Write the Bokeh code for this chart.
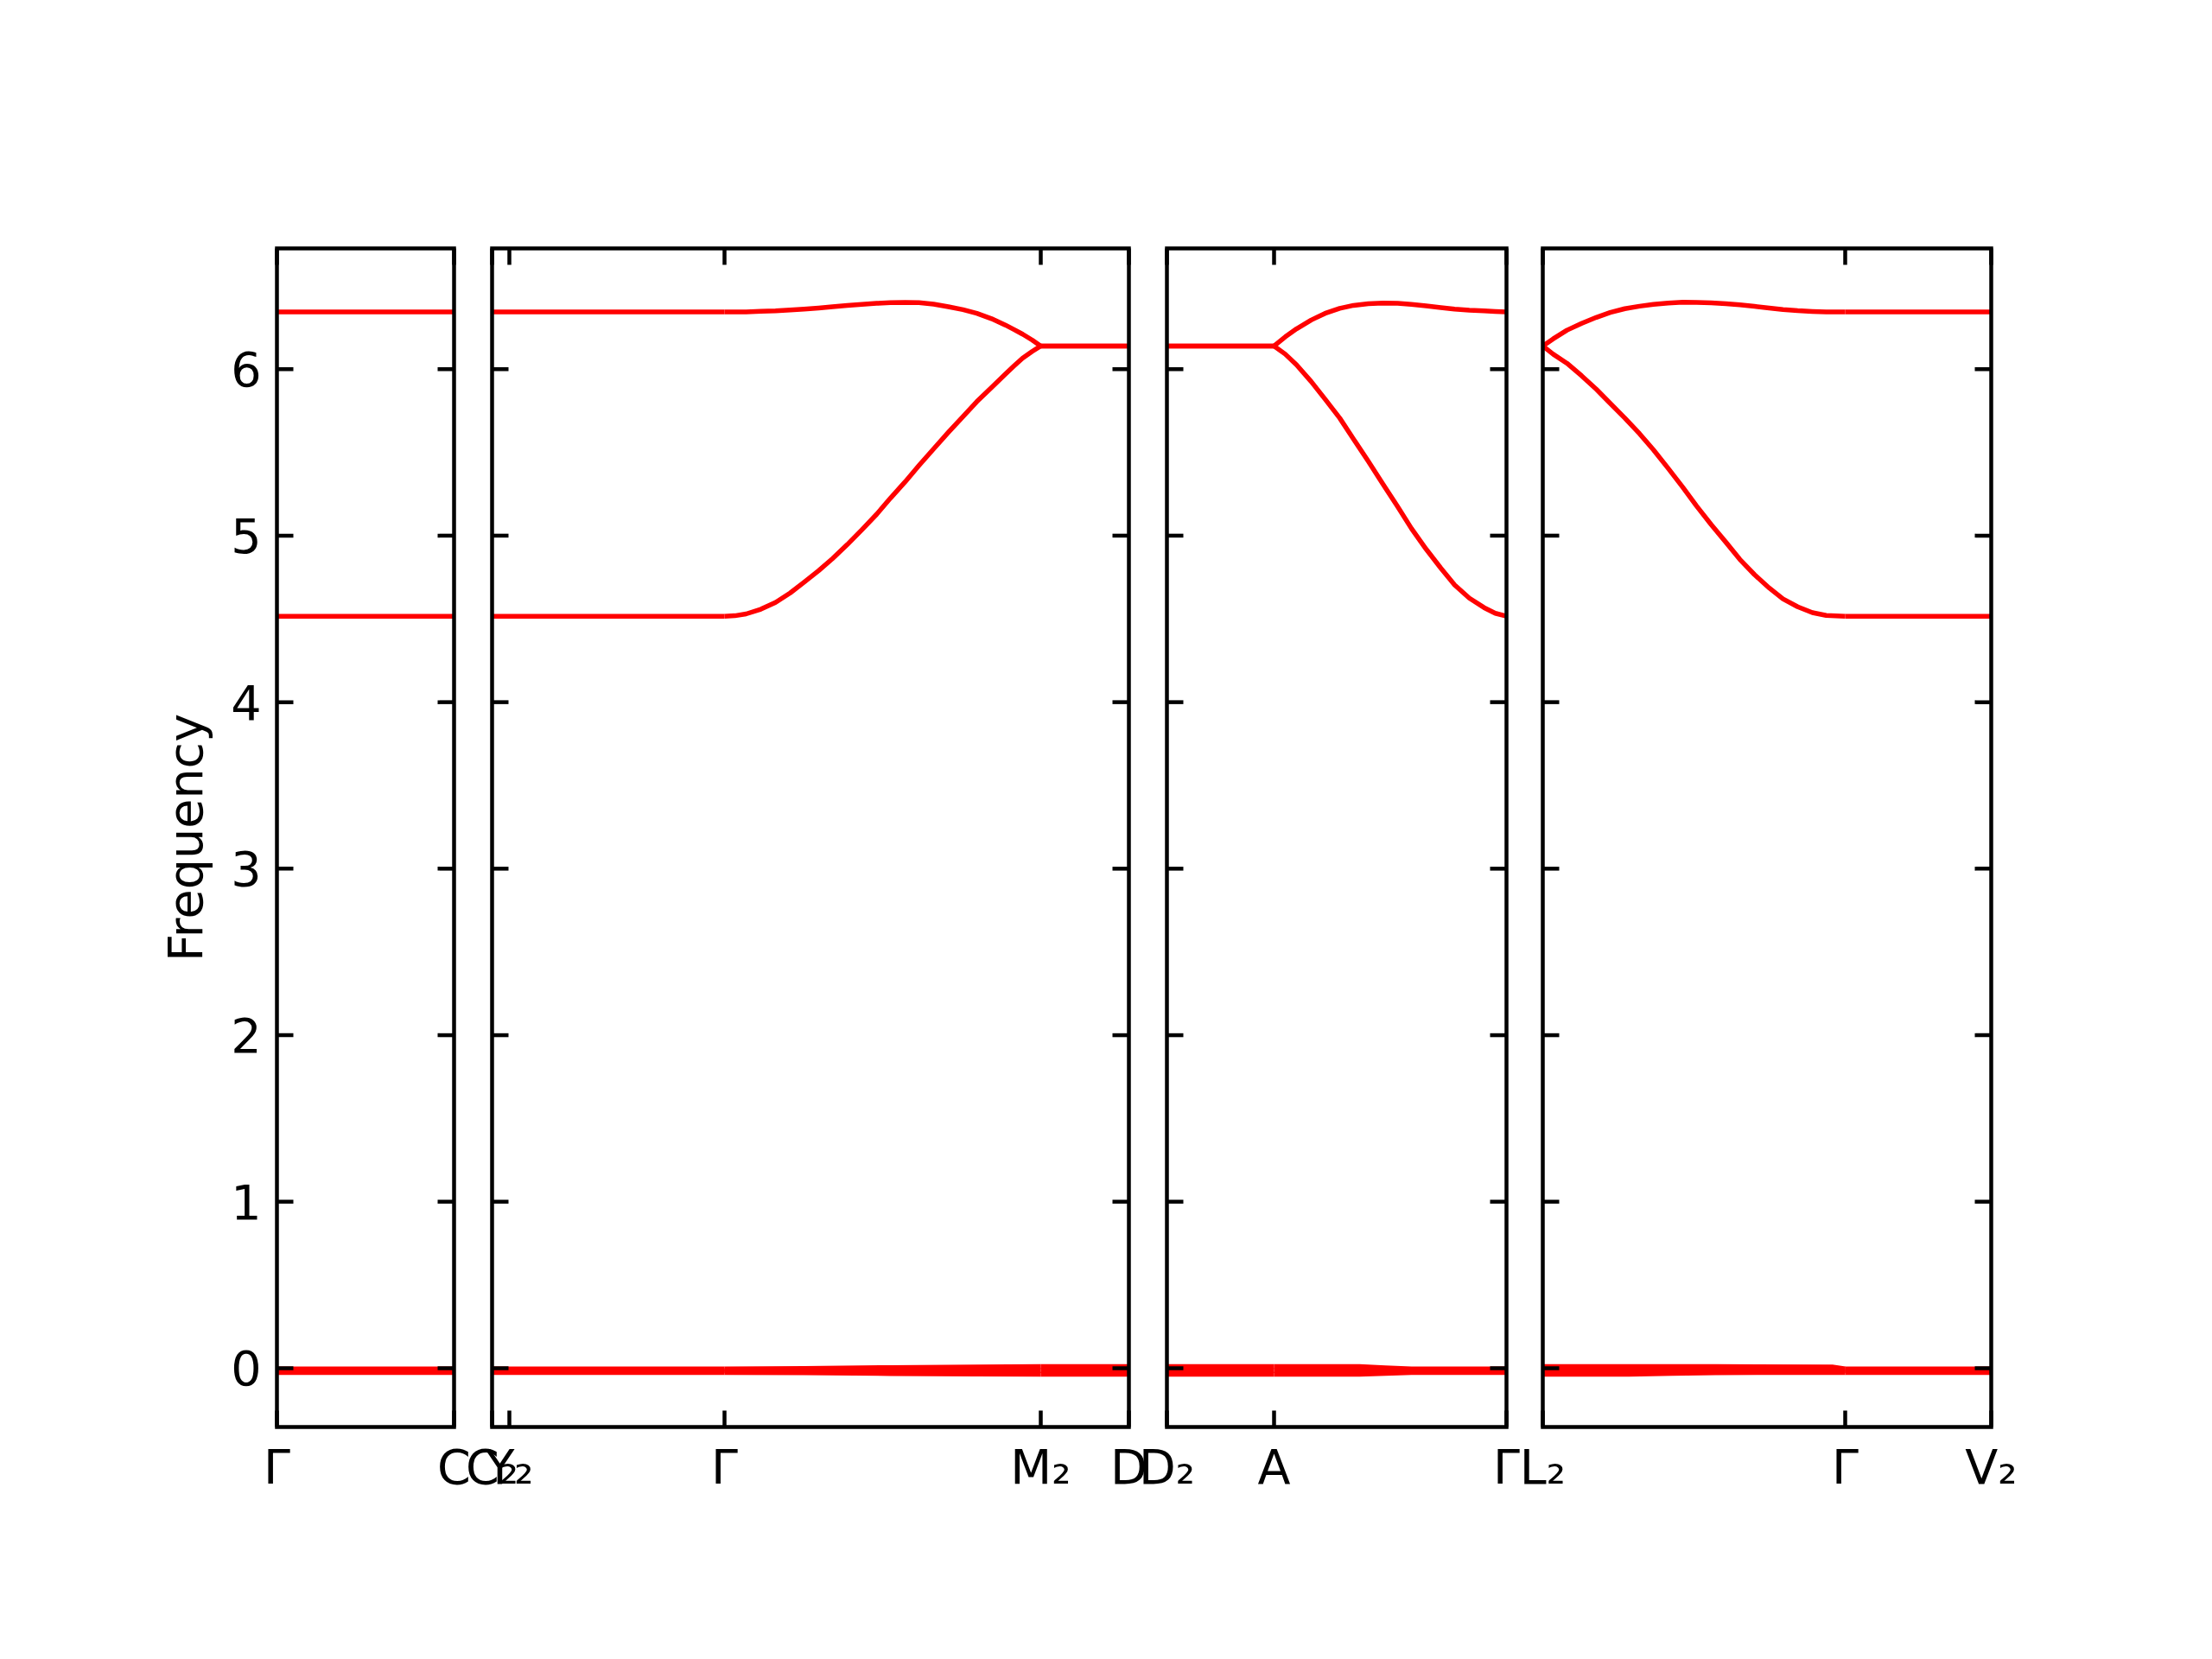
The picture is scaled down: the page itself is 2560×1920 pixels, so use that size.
from bokeh.plotting import figure
from bokeh.models import Range1d, FixedTicker
from bokeh.embed import file_html
from bokeh.resources import INLINE

# ---------------- data ----------------
# path distance along the q-path (arbitrary units), one array per segment
k_G_C = [0, 205]
k_C2_G = [205, 225, 474]
k_G_M2 = [474, 486, 499, 516, 533, 550, 566, 583, 599, 616, 633, 650, 666, 683, 699, 716, 733, 750,
          766, 783, 799, 809, 819, 830, 840]
k_M2_D = [840, 942]
k_D2_A = [942, 1066]
k_A_G = [1066, 1079, 1092, 1109, 1125, 1142, 1158, 1175, 1192, 1209, 1225, 1242, 1259, 1275, 1292,
         1309, 1322, 1335]
k_L2_G = [1335, 1347, 1363, 1380, 1397, 1413, 1430, 1447, 1463, 1480, 1497, 1513, 1530, 1547, 1563,
          1580, 1597, 1613, 1630, 1647, 1663, 1685]
k_G_V2 = [1685, 1854]

# optical branches (frequency)
hi_G_C = [6.343, 6.343]
lo_G_C = [4.516, 4.516]
hi_C2_G = [6.343, 6.343, 6.343]
lo_C2_G = [4.516, 4.516, 4.516]
hi_G_M2 = [6.343, 6.343, 6.344, 6.347, 6.350, 6.355, 6.360, 6.367, 6.375, 6.382, 6.389, 6.395, 6.399,
           6.401, 6.399, 6.390, 6.375, 6.357, 6.335, 6.303, 6.265, 6.238, 6.210, 6.175, 6.139]
lo_G_M2 = [4.516, 4.519, 4.530, 4.558, 4.599, 4.656, 4.720, 4.790, 4.862, 4.946, 5.035, 5.128, 5.225,
           5.323, 5.421, 5.521, 5.620, 5.715, 5.805, 5.890, 5.970, 6.019, 6.066, 6.106, 6.139]
hi_M2_D = [6.139, 6.139]
lo_M2_D = [6.139, 6.139]
hi_D2_A = [6.139, 6.139]
lo_D2_A = [6.139, 6.139]
hi_A_G = [6.139, 6.194, 6.242, 6.295, 6.335, 6.365, 6.383, 6.393, 6.397, 6.396, 6.389, 6.380, 6.370,
          6.360, 6.354, 6.350, 6.346, 6.343]
lo_A_G = [6.139, 6.090, 6.026, 5.925, 5.820, 5.706, 5.580, 5.447, 5.310, 5.175, 5.043, 4.919, 4.805,
          4.704, 4.625, 4.568, 4.534, 4.516]
hi_L2_G = [6.139, 6.182, 6.234, 6.275, 6.311, 6.340, 6.363, 6.378, 6.389, 6.397, 6.402, 6.401, 6.398,
           6.393, 6.386, 6.377, 6.367, 6.358, 6.351, 6.346, 6.343, 6.343]
lo_L2_G = [6.139, 6.090, 6.035, 5.960, 5.879, 5.795, 5.706, 5.612, 5.516, 5.405, 5.291, 5.178, 5.066,
           4.960, 4.858, 4.766, 4.686, 4.620, 4.573, 4.538, 4.521, 4.516]
hi_G_V2 = [6.343, 6.343]
lo_G_V2 = [4.516, 4.516]

# acoustic branches (near zero)
ak_G_C = [0, 205]
ac1_G_C = [-0.004, -0.004]
ac2_G_C = [-0.026, -0.026]
ac3_G_C = [-0.015, -0.015]
ak_C2_G = [205, 474]
ac1_C2_G = [-0.004, -0.004]
ac2_C2_G = [-0.026, -0.026]
ac3_C2_G = [-0.015, -0.015]
ak_G_M2 = [474, 566, 666, 766, 840]
ac1_G_M2 = [-0.004, -0.001, 0.004, 0.008, 0.010]
ac2_G_M2 = [-0.026, -0.028, -0.032, -0.035, -0.037]
ac3_G_M2 = [-0.015, -0.015, -0.015, -0.015, -0.015]
ak_M2_D = [840, 942]
ac1_M2_D = [0.010, 0.010]
ac2_M2_D = [-0.037, -0.037]
ac3_M2_D = [-0.015, -0.015]
ak_D2_A = [942, 1066]
ac1_D2_A = [0.010, 0.010]
ac2_D2_A = [-0.037, -0.037]
ac3_D2_A = [-0.015, -0.015]
ak_A_G = [1066, 1165, 1195, 1225, 1335]
ac1_A_G = [0.010, 0.010, 0.003, -0.004, -0.004]
ac2_A_G = [-0.037, -0.037, -0.031, -0.026, -0.026]
ac3_A_G = [-0.015, -0.015, -0.015, -0.015, -0.015]
ak_L2_G = [1335, 1435, 1485, 1535, 1670, 1685]
ac1_L2_G = [0.010, 0.010, 0.010, 0.010, 0.008, -0.004]
ac2_L2_G = [-0.037, -0.036, -0.031, -0.027, -0.026, -0.026]
ac3_L2_G = [-0.015, -0.015, -0.015, -0.015, -0.015, -0.015]
ak_G_V2 = [1685, 1854]
ac1_G_V2 = [-0.004, -0.004]
ac2_G_V2 = [-0.026, -0.026]
ac3_G_V2 = [-0.015, -0.015]

# panels (start, end of path distance) and their tick labels
panel_start = [0, 205, 942, 1335]
panel_end = [205, 942, 1335, 1854]
panel_ticks = [[0, 205], [205, 225, 474, 840, 942], [942, 1066, 1335], [1335, 1685, 1854]]
panel_labels = [["Γ", "C"], ["C₂", "Y₂", "Γ", "M₂", "D"], ["D₂", "A", "Γ"], ["L₂", "Γ", "V₂"]]
y_ticks = [0, 1, 2, 3, 4, 5, 6]
y_label = "Frequency"

# ---------------- layout constants ----------------
panel_gap = [0, 44, 88, 130]       # screen gap offset of each panel (px)
YLO, YHI = -0.353, 6.725            # y limits of each panel
PANEL_H = 1364                      # px
PAD = 4                             # frame extends beyond panels (px)
TL = 19                             # tick length px
FONT = "DejaVu Sans"
FS = "55.6px"
RED = "#ff0000"

ppy = PANEL_H / (YHI - YLO)
total_w = panel_end[-1] + panel_gap[-1]
FRAME_W = total_w + 2 * PAD
FRAME_H = PANEL_H + 2 * PAD
BL, BT, BR, BB = 316, 283, 60, 150

p = figure(width=BL + FRAME_W + BR, height=BT + FRAME_H + BB,
           x_range=Range1d(-PAD, total_w + PAD),
           y_range=Range1d(YLO - PAD / ppy, YHI + PAD / ppy),
           output_backend="svg", toolbar_location=None,
           min_border_left=BL, min_border_right=BR, min_border_top=BT, min_border_bottom=BB)
p.outline_line_color = None
p.grid.visible = False
p.background_fill_color = "white"
p.border_fill_color = "white"


def panel_of(k0):
    for i in range(4):
        if panel_start[i] <= k0 < panel_end[i]:
            return i
    return 3


optical = [(k_G_C, hi_G_C, lo_G_C), (k_C2_G, hi_C2_G, lo_C2_G), (k_G_M2, hi_G_M2, lo_G_M2),
           (k_M2_D, hi_M2_D, lo_M2_D), (k_D2_A, hi_D2_A, lo_D2_A), (k_A_G, hi_A_G, lo_A_G),
           (k_L2_G, hi_L2_G, lo_L2_G), (k_G_V2, hi_G_V2, lo_G_V2)]
acoustic = [(ak_G_C, ac1_G_C, ac2_G_C, ac3_G_C), (ak_C2_G, ac1_C2_G, ac2_C2_G, ac3_C2_G),
            (ak_G_M2, ac1_G_M2, ac2_G_M2, ac3_G_M2), (ak_M2_D, ac1_M2_D, ac2_M2_D, ac3_M2_D),
            (ak_D2_A, ac1_D2_A, ac2_D2_A, ac3_D2_A), (ak_A_G, ac1_A_G, ac2_A_G, ac3_A_G),
            (ak_L2_G, ac1_L2_G, ac2_L2_G, ac3_L2_G), (ak_G_V2, ac1_G_V2, ac2_G_V2, ac3_G_V2)]

for seg in optical + acoustic:
    ks = seg[0]
    g = panel_gap[panel_of(ks[0])]
    xs = [k + g for k in ks]
    for band in seg[1:]:
        p.line(xs, band, line_color=RED, line_width=5.5, line_join="round")

# panel frames and inward ticks
tx0, tx1, ty0, ty1 = [], [], [], []
for i in range(4):
    xl = panel_start[i] + panel_gap[i]
    xr = panel_end[i] + panel_gap[i]
    for yt in y_ticks:
        tx0 += [xl, xr - TL]; tx1 += [xl + TL, xr]; ty0 += [yt, yt]; ty1 += [yt, yt]
    for t in panel_ticks[i]:
        xt = t + panel_gap[i]
        tx0 += [xt, xt]; tx1 += [xt, xt]
        ty0 += [YLO, YHI - TL / ppy]; ty1 += [YLO + TL / ppy, YHI]
p.segment(tx0, ty0, tx1, ty1, line_color="black", line_width=4.5)
p.quad(left=[panel_start[i] + panel_gap[i] for i in range(4)],
       right=[panel_end[i] + panel_gap[i] for i in range(4)],
       bottom=[YLO] * 4, top=[YHI] * 4,
       fill_color=None, line_color="black", line_width=4.5, line_join="miter")

# axes (labels only)
xt_all, xt_over = [], {}
for i in range(4):
    for t, lab in zip(panel_ticks[i], panel_labels[i]):
        xt_all.append(t + panel_gap[i])
        xt_over[t + panel_gap[i]] = lab
for ax in (p.xaxis[0], p.yaxis[0]):
    ax.major_tick_in = 0
    ax.major_tick_out = 0
    ax.minor_tick_line_color = None
    ax.axis_line_color = None
    ax.major_label_text_font = FONT
    ax.major_label_text_font_size = FS
    ax.major_label_text_color = "black"
p.xaxis[0].ticker = FixedTicker(ticks=xt_all)
p.xaxis[0].major_label_overrides = xt_over
p.xaxis[0].major_label_standoff = 9
p.yaxis[0].ticker = FixedTicker(ticks=y_ticks)
p.yaxis[0].major_label_standoff = 14
p.yaxis[0].axis_label = y_label
p.yaxis[0].axis_label_text_font = FONT
p.yaxis[0].axis_label_text_font_size = FS
p.yaxis[0].axis_label_text_font_style = "normal"
p.yaxis[0].axis_label_text_color = "black"
p.yaxis[0].axis_label_standoff = 17

open("out.html", "w").write(file_html(p, INLINE))
